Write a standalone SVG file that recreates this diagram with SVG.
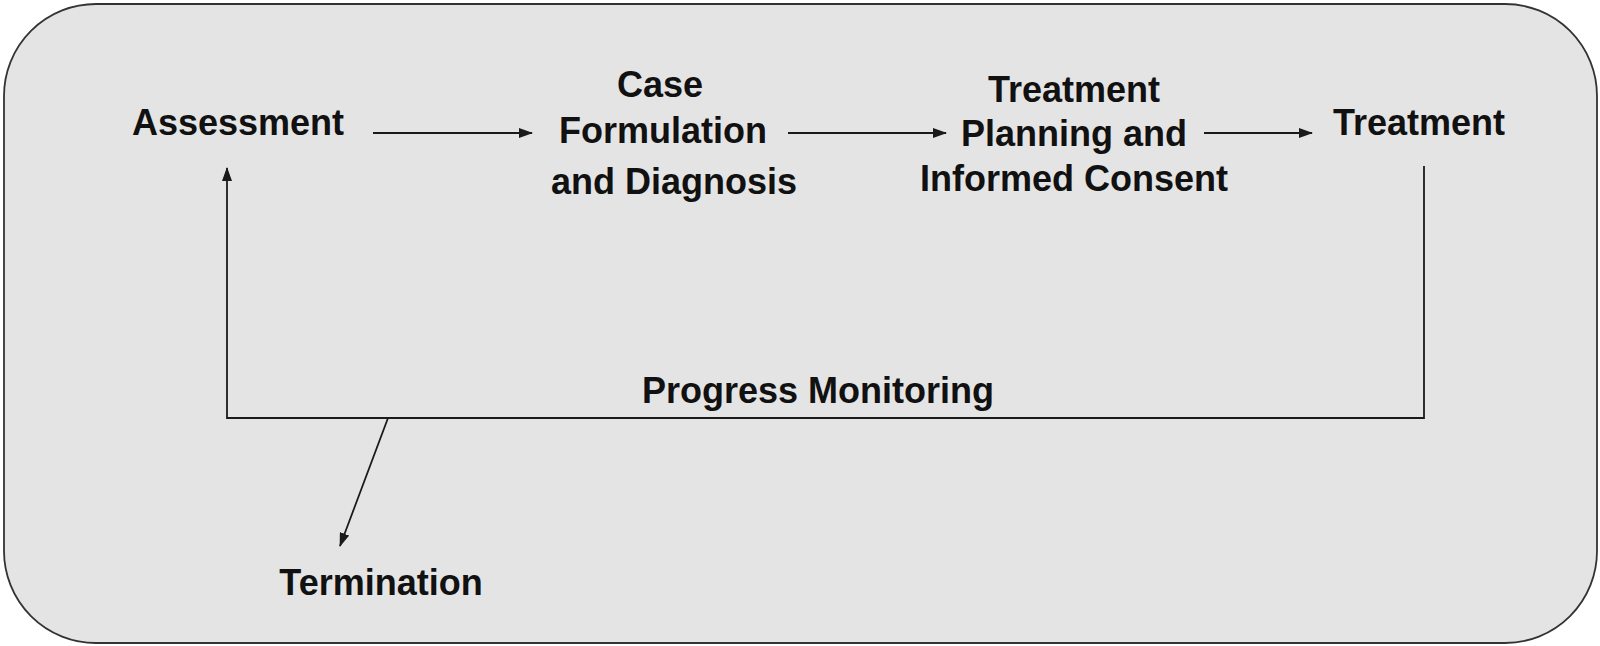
<svg xmlns="http://www.w3.org/2000/svg" width="1600" height="646" viewBox="0 0 1600 646">
<style>
.lbl{font-family:"Liberation Sans",Arial,sans-serif;font-weight:bold;font-size:36px;fill:#111;text-anchor:middle}
.ln{stroke:#1a1a1a;stroke-width:1.8;fill:none}
</style>
<defs>
<marker id="ah" viewBox="0 0 14 10" refX="13" refY="5" markerWidth="14" markerHeight="10" markerUnits="userSpaceOnUse" orient="auto">
<path d="M0,0 L14,5 L0,10 Z" fill="#1a1a1a"/>
</marker>
</defs>
<rect x="0" y="0" width="1600" height="646" fill="#ffffff"/>
<rect id="frame" x="4" y="4" width="1593" height="639" rx="92" ry="92" fill="#e4e4e4" stroke="#333" stroke-width="1.8"/>
<g id="connectors">
<line class="ln" x1="373" y1="133" x2="532" y2="133" marker-end="url(#ah)"/>
<line class="ln" x1="788" y1="133" x2="946" y2="133" marker-end="url(#ah)"/>
<line class="ln" x1="1204" y1="133" x2="1312" y2="133" marker-end="url(#ah)"/>
<polyline class="ln" points="1424,166 1424,418 227,418 227,168" marker-end="url(#ah)"/>
<line class="ln" x1="388" y1="418" x2="340" y2="546" marker-end="url(#ah)"/>
</g>
<g id="assessment"><text class="lbl" x="238" y="135">Assessment</text></g>
<g id="case-formulation">
<text class="lbl" x="660" y="97">Case</text>
<text class="lbl" x="663" y="143">Formulation</text>
<text class="lbl" x="674" y="194">and Diagnosis</text>
</g>
<g id="treatment-planning">
<text class="lbl" x="1074" y="102">Treatment</text>
<text class="lbl" x="1074" y="146">Planning and</text>
<text class="lbl" x="1074" y="191">Informed Consent</text>
</g>
<g id="treatment"><text class="lbl" x="1419" y="135">Treatment</text></g>
<g id="progress-monitoring"><text class="lbl" x="818" y="403">Progress Monitoring</text></g>
<g id="termination"><text class="lbl" x="381" y="595">Termination</text></g>
</svg>
